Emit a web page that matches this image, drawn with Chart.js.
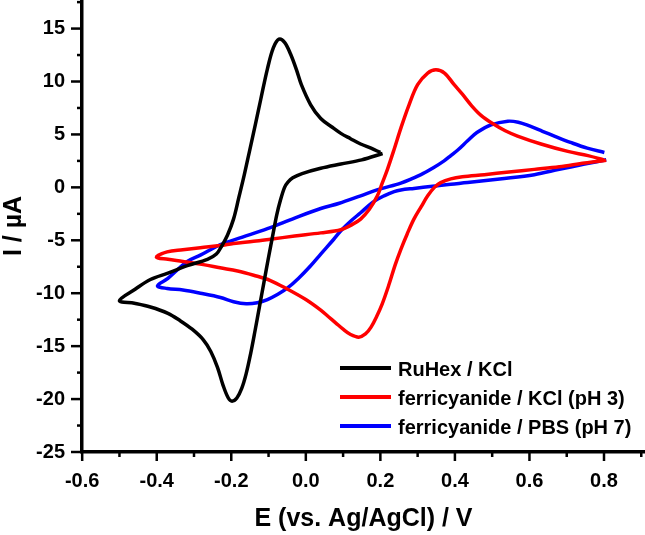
<!DOCTYPE html>
<html>
<head>
<meta charset="utf-8">
<script src="https://cdn.jsdelivr.net/npm/chart.js@4.4.1/dist/chart.umd.min.js"></script>
<style>
  html, body { margin: 0; padding: 0; background: #fff; }
  #wrap { width: 645px; height: 535px; }
</style>
</head>
<body>
<div id="wrap"><canvas id="cv"></canvas></div>
<script>
// Cyclic voltammograms, values (E in V, I in µA)
const seriesLabels = ["RuHex / KCl", "ferricyanide / KCl (pH 3)", "ferricyanide / PBS (pH 7)"];
const seriesColors = ["#000000", "#ff0000", "#0000ff"];

const ruhexE = [0.206, 0.15, 0.094, 0.04, -0.01, -0.035, -0.048, -0.057, -0.068, -0.078, -0.088, -0.1,
  -0.112, -0.124, -0.136, -0.148, -0.16, -0.172, -0.185, -0.198, -0.208, -0.222, -0.237, -0.255,
  -0.275, -0.305, -0.337, -0.37, -0.417, -0.46, -0.5,
  -0.457, -0.417, -0.37, -0.318, -0.264, -0.24, -0.225, -0.21, -0.194, -0.18, -0.165, -0.15,
  -0.135, -0.121, -0.103, -0.087, -0.072, -0.057, -0.041, -0.025, -0.012, 0.013, 0.04, 0.07,
  0.094, 0.12, 0.147, 0.175, 0.2];
const ruhexI = [3.2, 2.6, 2.2, 1.8, 1.3, 0.9, 0.5, 0.0, -1.2, -2.6, -4.4, -6.6,
  -8.9, -11.2, -13.5, -15.7, -17.6, -19.0, -19.9, -20.2, -19.9, -18.7, -17.0, -15.5,
  -14.4, -13.4, -12.6, -11.9, -11.3, -10.95, -10.7,
  -9.6, -8.7, -8.1, -7.4, -6.8, -6.3, -5.5, -4.5, -3.0, -1.0, 1.2, 3.6,
  6.0, 8.3, 11.2, 13.2, 14.0, 13.7, 12.6, 11.1, 9.7, 7.8, 6.5, 5.7,
  5.1, 4.6, 4.1, 3.7, 3.3];

const kclE = [0.806, 0.748, 0.68, 0.613, 0.545, 0.479, 0.42, 0.389, 0.362, 0.345, 0.327, 0.31,
  0.29, 0.272, 0.255, 0.24, 0.222, 0.205, 0.19, 0.175, 0.16, 0.142, 0.12, 0.1,
  0.08, 0.06, 0.04, 0.0, -0.05, -0.095, -0.14, -0.183, -0.23, -0.275, -0.33, -0.37, -0.401,
  -0.372, -0.33, -0.283, -0.229, -0.194, -0.14, -0.095, -0.03, 0.04, 0.094, 0.125, 0.147,
  0.17, 0.192, 0.205, 0.219, 0.237, 0.255, 0.277, 0.3, 0.327, 0.349,
  0.372, 0.398, 0.42, 0.445, 0.47, 0.5, 0.535, 0.568, 0.631, 0.703, 0.757, 0.8];
const kclI = [2.55, 2.3, 1.95, 1.7, 1.45, 1.2, 1.0, 0.8, 0.45, 0.0, -0.8, -1.8,
  -3.0, -4.4, -5.85, -7.3, -9.3, -11.0, -12.2, -13.2, -13.85, -14.15, -13.9, -13.4,
  -12.8, -12.2, -11.6, -10.6, -9.6, -8.8, -8.3, -7.9, -7.6, -7.3, -7.0, -6.8, -6.6,
  -6.1, -5.9, -5.7, -5.5, -5.3, -5.1, -4.9, -4.6, -4.3, -4.0, -3.5, -3.0,
  -2.1, -0.8, 0.4, 1.7, 3.6, 5.6, 7.8, 9.7, 10.8, 11.1,
  10.8, 9.7, 8.8, 7.7, 6.8, 6.05, 5.35, 4.85, 4.1, 3.4, 3.0, 2.6];

const pbsE = [0.806, 0.748, 0.68, 0.613, 0.52, 0.434, 0.389, 0.34, 0.29, 0.255, 0.237, 0.21,
  0.18, 0.147, 0.12, 0.094, 0.075, 0.04, 0.013, -0.02, -0.049, -0.075, -0.103, -0.13,
  -0.16, -0.194, -0.229, -0.283, -0.33, -0.372, -0.398,
  -0.37, -0.318, -0.283, -0.229, -0.17, -0.103, -0.03, 0.04, 0.09, 0.147, 0.2, 0.255,
  0.309, 0.34, 0.371, 0.389, 0.41, 0.434, 0.46, 0.497, 0.542, 0.57, 0.6, 0.635, 0.67, 0.71,
  0.755, 0.801];
const pbsI = [2.6, 2.2, 1.7, 1.2, 0.8, 0.45, 0.3, 0.1, -0.1, -0.25, -0.4, -0.8,
  -1.4, -2.4, -3.2, -4.1, -4.9, -6.3, -7.4, -8.6, -9.5, -10.1, -10.6, -10.9,
  -11.0, -10.8, -10.4, -10.0, -9.7, -9.55, -9.3,
  -8.6, -7.0, -6.4, -5.4, -4.7, -3.9, -2.9, -2.0, -1.5, -0.8, -0.15, 0.4,
  1.2, 1.8, 2.5, 3.0, 3.6, 4.4, 5.2, 5.9, 6.25, 6.15, 5.8, 5.3, 4.8, 4.25,
  3.7, 3.3];

const xMin = -0.6005, xMax = 0.91, xStep = 0.1;
const yMin = -25, yMax = 17.7, yStep = 2.5;

function pairs(xs, ys) {
  return xs.map((v, i) => ({ x: v, y: ys[i] }));
}

const FONT = "'Liberation Sans', Arial, sans-serif";
const near = (v, k) => Math.abs(v * k - Math.round(v * k)) < 1e-6;

// minor/major tick marks and the in-plot legend
const decor = {
  id: "decor",
  afterDraw(chart) {
    const { ctx } = chart;
    const sx = chart.scales.x, sy = chart.scales.y;
    const area = chart.chartArea;
    ctx.save();
    ctx.strokeStyle = "#000";
    ctx.lineWidth = 2.5;
    sx.ticks.forEach(t => {
      if (!near(t.value, 10)) return;
      const major = Math.round(t.value * 10) % 2 === 0;
      const p = sx.getPixelForValue(t.value);
      ctx.beginPath();
      ctx.moveTo(p, area.bottom);
      ctx.lineTo(p, area.bottom + (major ? 9 : 5));
      ctx.stroke();
    });
    sy.ticks.forEach(t => {
      if (!near(t.value, 2)) return;
      const major = Math.round(t.value * 2) % 2 === 0;
      const p = sy.getPixelForValue(t.value);
      ctx.beginPath();
      ctx.moveTo(area.left, p);
      ctx.lineTo(area.left - (major ? 11 : 5), p);
      ctx.stroke();
    });

    // legend
    ctx.font = "bold 20px " + FONT;
    ctx.textBaseline = "middle";
    ctx.textAlign = "left";
    const rows = [368, 397, 426];
    chart.data.datasets.forEach((ds, i) => {
      ctx.strokeStyle = ds.borderColor;
      ctx.lineWidth = 4;
      ctx.beginPath();
      ctx.moveTo(340, rows[i]);
      ctx.lineTo(391, rows[i]);
      ctx.stroke();
      ctx.fillStyle = "#000";
      ctx.fillText(ds.label, 398, rows[i] + 2);
    });
    ctx.restore();
  }
};

const datasets = [pairs(ruhexE, ruhexI), pairs(kclE, kclI), pairs(pbsE, pbsI)].map((d, i) => ({
  label: seriesLabels[i],
  data: d,
  borderColor: seriesColors[i],
  backgroundColor: seriesColors[i],
  borderWidth: 3.5,
  pointRadius: 0,
  showLine: true,
  tension: 0.35,
  fill: false
}));

new Chart(document.getElementById("cv"), {
  type: "scatter",
  data: { datasets: datasets },
  options: {
    responsive: true,
    maintainAspectRatio: false,
    animation: false,
    layout: { padding: 0 },
    plugins: { legend: { display: false }, tooltip: { enabled: false } },
    scales: {
      x: {
        type: "linear",
        min: xMin,
        max: xMax,
        grid: { display: false, drawTicks: true, tickLength: 11 },
        border: { display: true, color: "#000", width: 3.5 },
        ticks: {
          stepSize: xStep,
          includeBounds: false,
          autoSkip: false,
          maxRotation: 0,
          padding: 6,
          color: "#000",
          font: { family: FONT, size: 20, weight: "bold" },
          callback: v => (near(v, 5) ? (Math.round(v * 10) / 10).toFixed(1) : "")
        },
        title: {
          display: true,
          text: "E (vs. Ag/AgCl) / V",
          color: "#000",
          font: { family: FONT, size: 25, weight: "bold", lineHeight: 1.1 },
          padding: { top: 0, bottom: 2 }
        },
        afterFit: s => { s.height = 83; s.paddingLeft = 0; s.paddingRight = 0; }
      },
      y: {
        type: "linear",
        min: yMin,
        max: yMax,
        grid: { display: false, drawTicks: true, tickLength: 11 },
        border: { display: true, color: "#000", width: 3.5 },
        ticks: {
          stepSize: yStep,
          includeBounds: false,
          autoSkip: false,
          padding: 6,
          color: "#000",
          font: { family: FONT, size: 20, weight: "bold" },
          callback: v => (near(v, 0.2) ? String(Math.round(v)) : "")
        },
        title: {
          display: true,
          text: "I / µA",
          color: "#000",
          font: { family: FONT, size: 25, weight: "bold", lineHeight: 1.1 },
          padding: { top: 0, bottom: 0 }
        },
        afterFit: s => { s.width = 82; s.paddingTop = 0; s.paddingBottom = 0; }
      }
    }
  },
  plugins: [decor]
});
</script>
</body>
</html>
